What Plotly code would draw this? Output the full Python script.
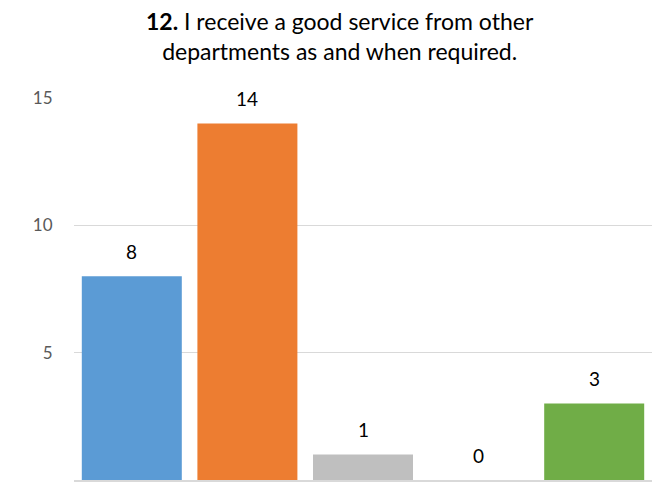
import plotly.graph_objects as go

# Response counts per answer option
categories = ["Strongly agree", "Agree", "Neutral", "Disagree", "Strongly disagree"]
counts = [8, 14, 1, 0, 3]
bar_colors = ["#5B9BD5", "#ED7D31", "#BFBFBF", "#FFC000", "#70AD47"]
y_ticks = [0, 5, 10, 15]

FONT = "Lato"

fig = go.Figure(
    go.Bar(
        x=categories,
        y=counts,
        marker=dict(color=bar_colors, line=dict(width=0)),
        hoverinfo="x+y",
    )
)

# value labels sitting just above each bar
for cat, val in zip(categories, counts):
    fig.add_annotation(
        x=cat, y=val, text=str(val), showarrow=False,
        yanchor="middle", yshift=25,
        font=dict(family=FONT, size=19, color="#000000"),
    )

# two-line chart heading
fig.add_annotation(
    xref="paper", yref="paper", x=0.46, y=1.243,
    xanchor="center", yanchor="top", showarrow=False,
    text="<b>12.</b> I receive a good service from other<br>departments as and when required.",
    align="center",
    font=dict(family=FONT, size=23, color="#000000"),
)

fig.update_layout(
    width=657, height=489,
    margin=dict(l=74, r=5, t=98, b=9),
    paper_bgcolor="white", plot_bgcolor="white",
    bargap=0.135,
    showlegend=False,
    xaxis=dict(
        showticklabels=False, showgrid=False, zeroline=False,
        showline=True, linecolor="#D9D9D9", linewidth=1.5,
        ticks="",
    ),
    yaxis=dict(
        range=[0, 15], tickvals=y_ticks, ticktext=[str(t) for t in y_ticks],
        showgrid=True, gridcolor="#D9D9D9", gridwidth=1,
        zeroline=False, showline=False,
        ticks="outside", ticklen=17, tickcolor="rgba(0,0,0,0)",
        tickfont=dict(family=FONT, size=17, color="#595959"),
    ),
)

fig.write_html("out.html")
